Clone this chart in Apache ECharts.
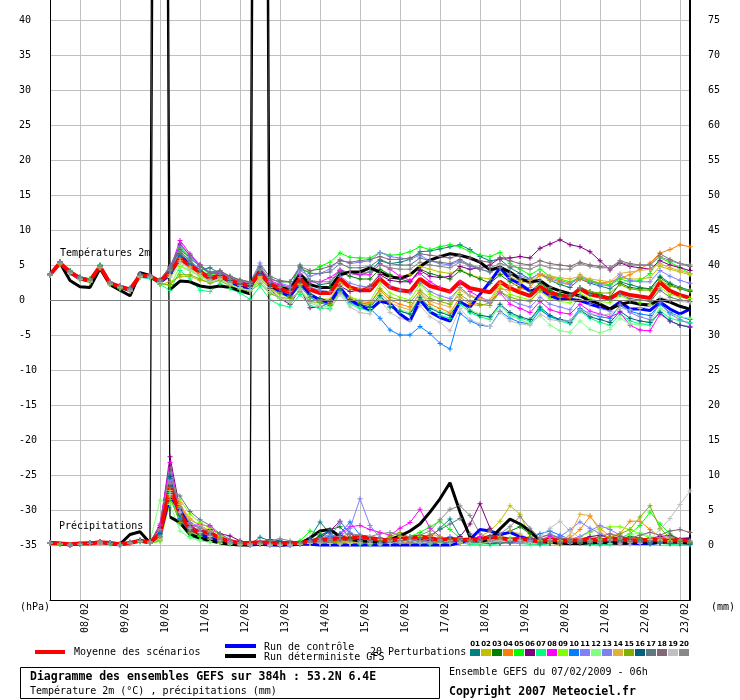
<!DOCTYPE html>
<html><head><meta charset="utf-8">
<script src="https://cdn.jsdelivr.net/npm/echarts@6/dist/echarts.min.js"></script>
<style>html,body{margin:0;padding:0;background:#fff}#chart{width:740px;height:700px}</style>
</head><body><div id="chart"></div>
<script>
const STEP_HOURS = 6;
const dateLabels = ['08/02','09/02','10/02','11/02','12/02','13/02','14/02','15/02','16/02','17/02','18/02','19/02','20/02','21/02','22/02','23/02'];
const dateTickHours = [18,42,66,90,114,138,162,186,210,234,258,282,306,330,354,378];
const tempTicks = [-35,-30,-25,-20,-15,-10,-5,0,5,10,15,20,25,30,35,40];
const precipTicks = [0,5,10,15,20,25,30,35,40,45,50,55,60,65,70,75];
const pertNames = ['01','02','03','04','05','06','07','08','09','10','11','12','13','14','15','16','17','18','19','20'];
const pertColors = ['#008080','#c0c000','#008000','#ff8000','#00ff00','#800080','#00ff80','#ff00ff','#80ff00','#0080ff','#8080ff','#80ff80','#8080f0','#e0b040','#80b000','#006080','#607880','#806878','#c0c0c0','#888888'];

// Temperature 2m (°C), 6-hourly from 07/02 06h
const tempMean = [3.6, 5.3,4.0,3.1,2.8, 4.8,2.4,1.9,1.5, 3.5,3.4,2.6,4.0, 5.9,4.9,4.0,3.1, 3.5,2.8,2.3,2.1, 3.9,2.3,1.6,1.1, 3.0,1.5,1.0,1.0, 3.0,1.8,1.4,1.4, 3.0,1.8,1.4,1.2, 3.0,2.0,1.6,1.2, 2.6,1.7,1.4,1.1, 2.6,1.7,1.1,0.6, 1.9,1.0,0.7,0.4, 1.6,0.8,0.5,0.2, 1.1,0.7,0.5,0.3, 2.5,1.3,0.7,0.3];
const tempControl = [3.6, 5.3,3.9,3.0,2.7, 4.7,2.3,1.8,1.4, 3.4,3.3,2.5,3.6, 6.2,5.0,4.0,3.0, 3.4,2.6,2.0,1.7, 4.2,2.1,1.2,0.5, 2.5,0.8,0.0,-0.4, 1.8,0.0,-0.8,-1.4, -0.2,-0.5,-2.0,-3.0, 0.0,-1.7,-2.5,-3.0, -0.3,-1.0,0.8,2.6, 4.6,3.0,2.3,1.3, 1.6,0.6,0.1,0.1, -0.1,-0.6,-1.0,-1.3, -0.3,-1.3,-1.3,-1.5, -0.3,-1.3,-2.0,-1.3];
const tempDeterministic = [3.6, 5.3,2.8,1.9,1.8, 4.5,2.2,1.4,0.6, 3.9,3.5,300,1.5, 2.7,2.6,2.0,1.8, 2.0,1.8,1.3,0.9, 300,1.9,1.7,1.5, 3.7,2.2,1.8,1.8, 3.6,4.0,4.0,4.6, 4.0,3.3,3.1,3.6, 4.8,5.7,6.2,6.6, 6.4,6.0,5.4,4.3, 4.7,4.0,3.0,2.6, 2.8,1.8,1.3,0.9, 0.6,-0.1,-0.6,-1.3, -0.6,-0.3,-0.6,-0.7, 0.1,-0.3,-0.9,-1.3];

const tempP01 = [3.7, 5.5,4.2,3.3,3.0, 5.0,2.6,2.0,1.7, 3.6,3.5,2.8,4.5, 7.0,5.6,4.3,4.6, 3.8,3.0,2.4,2.2, 4.4,2.6,2.0,1.6, 5.0,2.8,2.2,2.4, 4.2,3.8,3.6,4.0, 5.6,5.2,5.4,5.8, 6.9,7.0,7.3,7.6, 7.9,7.2,6.2,5.6, 5.8,4.6,3.8,3.0, 3.8,2.8,2.2,1.8, 3.0,2.4,2.0,1.6, 2.6,2.2,1.8,1.6, 3.4,2.4,1.8,1.4];
const tempP02 = [3.5, 5.1,3.8,2.9,2.5, 4.6,2.2,1.7,1.3, 3.3,3.2,2.2,2.6, 3.3,3.4,2.8,2.6, 3.0,2.4,1.8,1.5, 3.0,1.6,0.9,0.5, 2.2,0.8,0.2,0.1, 2.4,1.6,1.6,2.0, 3.8,3.2,3.4,3.6, 4.8,4.4,4.0,3.8, 4.4,3.6,3.2,3.0, 3.8,3.2,2.8,2.4, 3.6,2.8,2.4,2.2, 3.6,2.8,2.4,2.2, 3.2,3.0,3.0,3.2, 4.8,4.4,4.0,3.6];
const tempP03 = [3.6, 5.4,4.1,3.2,2.9, 4.9,2.5,2.0,1.6, 3.7,3.5,2.7,4.2, 6.4,5.3,4.3,3.2, 3.7,3.0,2.5,2.3, 4.1,2.6,2.0,1.5, 3.6,2.3,1.8,1.9, 4.0,3.4,3.0,3.0, 4.4,3.6,3.0,2.6, 4.4,3.8,3.4,3.0, 4.2,3.6,3.0,2.4, 3.6,2.6,1.8,1.2, 2.4,1.4,0.8,0.4, 1.8,1.2,0.8,0.4, 2.4,1.8,1.6,1.6, 3.2,2.2,1.6,1.2];
const tempP04 = [3.6, 5.2,3.9,3.0,2.7, 4.7,2.3,1.8,1.5, 3.5,3.3,2.5,3.8, 6.0,4.8,3.9,3.0, 3.4,2.6,2.1,1.9, 3.4,1.8,1.0,0.6, 2.4,0.6,0.0,-0.3, 1.8,0.4,-0.2,-0.4, 1.4,0.0,-0.6,-1.0, 1.0,-0.6,-1.2,-1.8, 0.4,-0.6,-0.8,-0.4, 1.6,1.4,1.6,1.8, 3.6,3.2,2.8,2.4, 3.0,2.6,2.4,2.6, 3.1,3.6,4.4,5.3, 6.7,7.2,7.9,7.6];
const tempP05 = [3.6, 5.4,4.2,3.3,3.0, 5.0,2.6,2.0,1.6, 3.6,3.5,2.9,4.6, 7.4,6.0,4.8,3.6, 3.9,3.2,2.7,2.5, 4.4,3.0,2.6,2.6, 4.4,4.0,4.8,5.4, 6.7,6.1,6.0,6.0, 6.8,6.4,6.5,6.9, 7.6,7.2,7.6,7.9, 7.6,6.9,6.4,6.2, 6.8,5.2,4.4,3.6, 4.4,3.4,3.0,2.6, 3.2,2.8,2.4,2.2, 3.0,2.6,2.8,3.8, 6.0,5.4,4.6,3.8];
const tempP06 = [3.6, 5.3,3.9,3.0,2.7, 4.8,2.3,1.8,1.4, 3.4,3.3,2.6,3.8, 8.0,6.4,5.0,3.8, 3.9,3.0,2.4,2.0, 3.6,1.6,0.2,-0.6, 1.6,-1.1,-1.0,-0.4, 2.0,1.2,1.4,2.0, 3.6,2.8,2.6,2.6, 4.2,3.4,3.2,3.4, 4.8,4.4,4.6,5.0, 6.0,6.0,6.2,6.0, 7.4,8.0,8.6,7.9, 7.6,6.9,5.6,4.3, 5.3,4.8,4.6,4.4, 5.6,5.0,4.6,4.2];
const tempP07 = [3.5, 5.2,3.8,2.9,2.6, 4.6,2.2,1.6,1.2, 3.2,3.1,2.2,1.4, 4.2,3.0,1.4,1.2, 2.4,1.6,1.0,0.1, 2.0,0.0,-0.7,-1.0, 0.8,-0.8,-1.2,-1.2, 1.2,-0.6,-1.2,-1.6, 0.4,-1.0,-1.6,-2.0, 0.0,-1.6,-2.2,-2.6, -0.6,-1.8,-2.4,-2.8, -0.8,-2.0,-2.6,-3.0, -1.2,-2.4,-3.0,-3.4, -1.6,-2.6,-3.2,-3.6, -2.0,-3.0,-3.4,-3.6, -1.6,-2.6,-3.0,-3.2];
const tempP08 = [3.7, 5.4,4.1,3.2,2.9, 4.9,2.5,2.0,1.6, 3.6,3.5,2.8,4.4, 8.5,6.6,5.0,3.8, 4.0,3.2,2.6,2.3, 4.2,2.8,2.2,1.8, 3.6,2.6,2.6,3.2, 4.2,3.8,3.6,3.6, 5.2,4.4,3.4,2.8, 3.8,2.6,1.8,1.2, 2.6,1.2,0.4,-0.2, 1.0,-0.6,-1.2,-1.8, -0.2,-1.4,-1.8,-2.0, -0.6,-1.6,-2.0,-2.4, -1.8,-3.6,-4.3,-4.4, -2.0,-3.0,-3.6,-3.8];
const tempP09 = [3.6, 5.3,4.0,3.1,2.8, 4.7,2.4,1.9,1.5, 3.5,3.4,2.4,2.0, 4.8,4.2,3.4,2.8, 3.2,2.4,1.8,1.4, 3.2,1.5,0.8,0.3, 2.0,0.3,-0.3,-0.6, 1.8,0.4,0.0,-0.2, 2.4,1.0,0.4,0.0, 2.2,0.8,0.2,-0.2, 1.8,0.6,0.0,-0.2, 2.0,0.8,0.4,0.0, 1.2,0.2,-0.2,-0.4, 1.0,0.2,-0.2,-0.4, 0.6,0.0,-0.4,-0.6, 1.8,0.8,0.4,0.2];
const tempP10 = [3.6, 5.3,4.0,3.1,2.8, 4.8,2.4,1.9,1.5, 3.5,3.4,2.6,4.0, 6.3,5.0,3.8,2.8, 3.2,2.6,2.0,1.7, 3.6,1.8,1.0,0.4, 2.0,0.4,-0.4,-0.8, 1.4,-0.4,-1.0,-1.2, -2.6,-4.3,-5.0,-5.0, -3.8,-4.8,-6.2,-7.0, -1.9,-3.0,-3.6,-3.8, -1.6,-2.6,-3.2,-3.4, -1.4,-2.4,-2.8,-3.0, -1.2,-2.0,-2.4,-2.6, -0.8,-1.6,-2.0,-2.2, -0.6,-1.8,-2.4,-2.8];
const tempP11 = [3.7, 5.4,4.1,3.3,2.9, 4.9,2.5,2.0,1.6, 3.6,3.5,2.7,4.8, 7.6,6.2,4.9,3.8, 4.0,3.3,2.7,2.5, 5.3,3.2,2.4,2.0, 4.2,3.4,3.8,4.4, 5.8,5.2,5.4,5.6, 6.8,6.2,6.0,5.8, 6.4,5.6,5.2,5.0, 5.6,4.8,4.4,4.0, 4.6,3.8,3.4,3.0, 3.8,3.0,2.6,2.2, 3.4,2.6,2.2,2.0, 3.6,2.8,2.6,2.6, 4.2,3.4,2.8,2.4];
const tempP12 = [3.5, 5.2,3.9,3.0,2.7, 4.7,2.3,1.8,1.4, 3.4,3.3,2.5,3.2, 5.0,4.2,3.3,2.6, 3.0,2.2,1.6,1.2, 2.8,1.0,0.2,-0.3, 1.6,-0.2,-0.8,-1.0, 1.0,-0.6,-1.0,-1.2, 0.8,-0.8,-1.4,-1.8, 0.6,-1.0,-1.6,-2.0, 0.0,-1.4,-2.0,-2.6, -0.8,-2.2,-2.8,-3.4, -2.2,-3.6,-4.4,-4.6, -3.0,-4.2,-4.7,-4.2, -2.6,-3.4,-3.6,-3.0, -1.2,-2.0,-2.4,-2.6];
const tempP13 = [3.6, 5.3,4.0,3.1,2.8, 4.8,2.4,1.9,1.5, 3.5,3.4,2.6,4.3, 7.0,5.6,4.4,3.4, 3.6,2.9,2.4,2.2, 4.4,2.6,1.8,1.2, 3.2,1.8,1.4,1.2, 3.4,2.4,2.0,1.8, 3.2,2.0,1.4,1.0, 2.4,1.2,0.6,0.2, 1.8,0.6,0.0,-0.4, 1.2,0.0,-0.6,-1.0, 0.4,-0.6,-1.0,-1.4, 0.6,-0.6,-1.2,-1.6, -0.6,-1.8,-2.4,-2.8, -0.4,-2.0,-2.8,-3.4];
const tempP14 = [3.6, 5.3,4.0,3.1,2.8, 4.8,2.4,1.9,1.5, 3.4,3.3,2.5,3.6, 5.6,4.6,3.7,2.9, 3.3,2.6,2.1,1.8, 3.4,1.8,1.0,0.6, 2.2,0.6,0.0,-0.4, 1.6,0.2,-0.4,-0.8, 1.0,-0.4,-1.0,-1.4, 1.2,-0.2,-0.6,-1.0, 1.4,0.6,0.2,0.0, 2.4,2.0,2.4,2.8, 3.8,3.4,3.2,3.0, 3.4,3.0,2.8,2.6, 3.8,4.0,4.2,4.4, 5.2,4.6,4.2,3.8];
const tempP15 = [3.5, 5.2,3.9,3.0,2.6, 4.6,2.2,1.7,1.3, 3.3,3.2,2.3,2.2, 3.6,3.6,3.0,2.4, 2.8,2.0,1.5,1.2, 2.4,0.9,0.4,0.2, 1.2,-0.2,-0.4,-0.6, 1.2,0.0,-0.4,-0.6, 1.6,0.4,0.0,-0.4, 1.4,0.2,-0.2,-0.6, 0.8,-0.2,-0.6,-0.8, 1.2,0.4,0.0,-0.2, 1.4,0.6,0.4,0.4, 1.8,1.2,1.0,1.0, 2.2,1.6,1.4,1.4, 2.8,2.0,1.6,1.4];
const tempP16 = [3.6, 5.3,4.0,3.1,2.8, 4.8,2.4,1.9,1.5, 3.6,3.5,2.7,4.2, 6.6,5.4,4.2,3.2, 3.5,2.8,2.3,2.0, 3.8,2.0,1.2,0.6, 2.6,0.8,0.2,-0.2, 1.6,0.0,-0.6,-1.0, 0.6,-1.0,-1.6,-2.0, 0.4,-1.2,-1.8,-2.2, -0.2,-1.6,-2.2,-2.4, -0.6,-1.8,-2.4,-2.8, -1.0,-2.2,-2.8,-3.2, -1.4,-2.4,-2.8,-3.2, -1.6,-2.6,-3.0,-3.2, -1.8,-3.0,-3.6,-3.9];
const tempP17 = [3.6, 5.3,4.0,3.1,2.8, 4.8,2.4,1.9,1.5, 3.6,3.5,2.8,4.6, 7.2,6.0,4.8,3.8, 4.1,3.4,2.8,2.6, 4.8,3.4,2.8,2.6, 4.6,3.8,3.8,4.0, 5.2,4.6,4.6,4.8, 5.8,5.2,5.0,5.0, 6.0,5.6,5.4,5.2, 5.8,5.0,4.4,4.0, 4.6,3.6,3.0,2.4, 2.8,1.8,1.2,0.8, 1.6,0.8,0.4,0.0, 0.8,0.2,0.0,-0.2, 1.4,0.4,0.0,-0.2];
const tempP18 = [3.7, 5.4,4.1,3.2,2.9, 4.9,2.5,2.0,1.6, 3.7,3.6,2.9,4.8, 7.8,6.4,5.0,4.0, 4.2,3.4,2.9,2.6, 4.6,3.0,2.6,2.6, 4.8,4.2,4.4,4.8, 5.6,5.4,5.6,5.8, 6.2,5.8,5.8,6.0, 6.6,6.4,6.2,6.0, 6.4,6.0,5.6,5.4, 6.0,5.6,5.2,5.0, 5.6,5.2,5.0,4.8, 5.4,5.0,4.8,4.6, 5.6,5.2,5.0,5.0, 6.6,5.8,5.2,4.8];
const tempP19 = [3.6, 5.2,3.9,3.0,2.7, 4.7,2.3,1.8,1.4, 3.4,3.3,2.5,3.4, 5.4,4.4,3.5,2.7, 3.0,2.3,1.8,1.4, 2.8,1.2,0.4,-0.2, 1.4,-0.4,-1.0,-1.4, 0.8,-1.0,-1.8,-2.0, 0.0,-1.8,-2.6,-3.0, -0.8,-2.4,-3.2,-4.4, -1.2,-2.8,-3.4,-3.8, -1.8,-3.0,-3.4,-3.6, -2.0,-2.8,-3.0,-3.0, -1.4,-2.0,-2.2,-2.0, -1.2,-1.4,-1.2,-0.8, 0.4,0.0,-0.2,-0.4];
const tempP20 = [3.6, 5.3,4.0,3.1,2.8, 4.8,2.4,1.9,1.5, 3.5,3.4,2.6,4.2, 6.8,5.4,4.3,3.4, 3.7,3.0,2.5,2.2, 4.2,2.6,2.0,1.8, 3.8,2.8,2.6,2.6, 4.4,3.8,3.8,4.0, 5.0,4.6,4.4,4.4, 5.4,5.0,4.8,4.6, 5.4,5.0,4.6,4.6, 5.2,4.8,4.6,4.4, 5.0,4.6,4.4,4.4, 5.2,4.8,4.6,4.6, 5.4,5.0,5.0,5.0, 6.2,5.6,5.2,5.0];

// Precipitation (mm), 6-hourly
const precipMean = [0.3,0.2,0.1,0.2,0.2, 0.4,0.3,0.1,0.3,0.6, 0.4, 1.6,8.3,4.4,2.3,1.8, 1.8,0.9,0.5,0.3,0.3, 0.4,0.3,0.3,0.3,0.3, 0.5,0.8,0.8,1.0,0.9, 1.2,1.0,0.8,0.6,0.9, 1.0,1.2,1.0,0.7,0.9, 0.7,0.8,0.8,1.2,1.0, 0.8,0.9,0.7,0.5,0.8, 0.6,0.6,0.7,0.8,0.6, 0.9,0.9,0.7,0.6,0.8, 0.7,0.6,0.7,0.6];
const precipControl = [0.3,0.2,0.0,0.2,0.2, 0.4,0.2,0.0,0.3,0.6, 0.3, 1.5,7.0,5.0,2.5,1.5, 1.0,0.5,0.2,0.1,0.0, 0.1,0.0,0.0,0.0,0.1, 0.1,0.0,0.0,0.0,0.0, 0.0,0.0,0.0,0.0,0.0, 0.0,0.0,0.0,0.0,0.0, 0.3,0.8,2.2,2.0,1.5, 1.8,1.2,0.8,0.6,0.4, 0.3,0.2,0.3,0.4,0.6, 0.4,0.3,0.2,0.2,0.2, 0.4,0.6,0.8,0.9];
const precipDeterministic = [0.4,0.2,0.0,0.2,0.3, 0.4,0.2,0.1,1.5,1.9, 0.3, 300,4.0,3.2,1.5,1.0, 0.6,0.3,0.1,0.0,0.0, 300,0.1,0.0,0.1,0.2, 1.0,2.0,2.2,1.2,0.8, 0.6,0.5,0.4,0.8,1.3, 2.0,3.0,4.7,6.6,8.9, 4.7,1.1,0.5,0.8,2.3, 3.7,3.0,2.0,0.6,0.4, 0.3,0.2,0.2,0.3,0.4, 0.3,0.2,0.3,0.4,0.3, 0.4,0.5,0.4,0.3];

const precipP01 = [0.3,0.2,0.0,0.1,0.2, 0.5,0.2,0.0,0.4,0.7, 0.3, 1.5,9.5,4.5,2.2,1.8, 1.4,0.8,0.4,0.2,0.1, 1.1,0.6,0.3,0.2,0.4, 1.0,3.3,1.6,0.8,0.6, 0.4,0.3,0.2,0.6,0.4, 0.3,0.8,1.0,2.4,3.7, 1.2,0.4,0.3,0.2,0.2, 0.4,0.3,0.2,0.1,0.2, 0.3,0.2,0.4,0.2,0.1, 0.2,0.4,0.3,0.2,0.1, 0.2,0.3,0.2,0.1];
const precipP02 = [0.3,0.1,0.0,0.2,0.2, 0.3,0.2,0.0,0.2,0.5, 0.2, 0.8,7.0,5.5,3.6,2.8, 2.0,1.2,0.6,0.3,0.2, 0.2,0.1,0.0,0.0,0.1, 0.2,0.4,0.6,0.4,0.3, 0.2,0.1,0.3,0.8,1.2, 0.6,0.4,0.3,0.2,0.4, 0.6,0.8,1.2,2.0,3.4, 5.6,4.4,1.2,0.4,0.2, 0.1,0.2,0.4,0.6,0.8, 1.0,0.6,0.8,1.0,0.8, 0.6,0.4,0.3,0.2];
const precipP03 = [0.2,0.2,0.0,0.1,0.3, 0.4,0.3,0.1,0.3,0.6, 0.4, 1.2,8.5,3.5,2.0,1.5, 1.2,0.6,0.3,0.2,0.1, 0.3,0.2,0.1,0.1,0.3, 0.6,1.2,2.2,2.6,1.0, 0.6,0.4,0.3,0.2,0.4, 0.6,0.5,0.3,0.6,1.0, 0.4,0.2,0.2,0.3,1.2, 2.0,2.6,1.6,0.6,0.3, 0.2,0.4,0.6,0.4,0.2, 0.3,0.8,1.2,1.0,0.6, 0.4,0.2,0.3,0.2];
const precipP04 = [0.3,0.2,0.1,0.2,0.2, 0.4,0.2,0.0,0.3,0.5, 0.3, 2.0,9.0,6.0,3.0,2.4, 1.8,0.9,0.4,0.2,0.1, 0.2,0.1,0.1,0.0,0.2, 0.4,0.6,0.8,0.6,0.4, 0.3,0.6,0.8,1.0,0.6, 0.4,0.6,1.2,0.8,0.4, 0.2,0.3,0.6,0.8,0.4, 0.2,0.3,0.6,0.4,0.2, 0.4,1.0,2.2,4.1,2.4, 1.2,1.6,3.4,3.4,2.2, 1.2,0.6,0.4,0.3];
const precipP05 = [0.3,0.2,0.0,0.1,0.2, 0.3,0.2,0.0,0.2,0.5, 0.2, 0.6,6.5,4.0,1.6,1.2, 0.8,0.4,0.2,0.1,0.0, 0.1,0.0,0.0,0.2,0.6, 2.0,1.6,1.2,0.8,0.6, 0.4,0.2,0.3,0.6,0.8, 1.2,1.8,2.6,3.4,2.2, 1.0,0.4,0.2,0.6,0.8, 1.0,0.8,0.6,0.4,0.3, 0.2,0.4,0.8,1.2,1.0, 0.8,1.0,1.6,2.8,4.7, 3.0,1.6,0.8,0.4];
const precipP06 = [0.3,0.2,0.0,0.2,0.3, 0.5,0.3,0.1,0.4,0.7, 0.4, 2.5,12.6,5.0,2.8,2.0, 2.2,1.6,1.3,0.6,0.2, 0.3,0.2,0.1,0.1,0.2, 0.6,1.0,2.0,3.4,1.6, 0.8,0.4,0.3,0.2,0.4, 0.6,0.8,0.6,0.4,0.6, 1.2,3.0,5.9,2.4,0.8, 0.4,0.6,0.8,0.6,0.4, 0.3,0.4,0.8,1.2,1.4, 1.0,0.8,0.6,0.8,1.0, 1.2,1.4,0.8,0.4];
const precipP07 = [0.2,0.1,0.0,0.1,0.2, 0.3,0.1,0.0,0.2,0.4, 0.2, 1.0,7.5,3.0,1.2,0.8, 0.5,0.2,0.1,0.0,0.0, 0.1,0.0,0.0,0.0,0.1, 0.2,0.4,0.6,0.4,0.2, 0.1,0.0,0.0,0.2,0.4, 0.3,0.2,0.1,0.4,0.6, 0.3,0.1,0.0,0.0,0.2, 0.4,0.2,0.1,0.0,0.2, 0.6,0.4,0.2,0.1,0.0, 0.1,0.2,0.4,0.6,0.4, 0.2,0.1,0.0,0.0];
const precipP08 = [0.3,0.2,0.0,0.2,0.2, 0.4,0.2,0.0,0.3,0.6, 0.3, 3.0,11.8,4.2,2.5,3.0, 2.6,1.4,0.6,0.3,0.2, 0.2,0.1,0.1,0.0,0.1, 0.3,0.6,1.0,1.6,2.6, 2.8,2.2,1.8,1.4,2.4, 3.2,5.1,2.4,1.2,0.6, 0.4,0.8,1.2,0.6,0.4, 0.3,0.4,0.6,0.8,1.2, 0.8,0.4,0.3,0.2,0.4, 0.6,0.4,0.3,0.2,0.4, 0.6,0.4,0.2,0.2];
const precipP09 = [0.3,0.2,0.1,0.1,0.2, 0.4,0.2,0.0,0.2,0.5, 0.3, 0.5,6.0,6.5,4.4,3.2, 2.4,1.4,0.8,0.4,0.2, 0.1,0.1,0.0,0.1,0.2, 0.3,0.4,0.3,0.2,0.4, 0.6,0.4,0.3,0.2,0.6, 0.8,1.2,0.8,0.6,0.4, 0.3,0.2,0.4,0.8,1.0, 0.8,0.6,0.4,0.6,0.8, 0.6,0.8,1.2,1.8,2.4, 2.6,2.6,2.2,1.6,1.0, 0.8,0.6,0.4,0.3];
const precipP10 = [0.3,0.2,0.0,0.1,0.2, 0.4,0.3,0.1,0.3,0.6, 0.3, 1.8,10.0,3.8,2.0,1.6, 1.0,0.5,0.3,0.1,0.0, 0.1,0.0,0.0,0.1,0.2, 0.4,0.8,1.2,1.6,3.3, 1.4,0.6,0.3,0.2,0.4, 0.6,0.4,0.3,0.2,0.4, 0.6,0.4,0.8,1.2,0.8, 0.6,0.8,1.0,1.6,2.0, 1.4,0.8,0.6,0.4,0.6, 0.8,0.6,0.4,0.3,0.2, 0.3,0.4,0.6,0.4];
const precipP11 = [0.3,0.2,0.0,0.2,0.2, 0.4,0.2,0.0,0.3,0.6, 0.3, 2.2,9.2,5.2,3.2,2.6, 1.8,1.0,0.5,0.2,0.1, 0.2,0.1,0.0,0.0,0.2, 0.6,1.0,1.4,1.2,2.4, 6.6,2.8,1.0,0.6,0.4, 0.3,0.6,0.8,0.4,0.3, 0.2,0.4,0.6,0.4,0.3, 0.6,0.8,0.6,0.4,0.6, 1.2,2.2,3.3,2.4,1.6, 1.0,0.6,0.4,0.3,0.4, 0.6,0.4,0.3,0.2];
const precipP12 = [0.2,0.1,0.0,0.1,0.2, 0.3,0.2,0.0,0.2,0.6, 0.5, 6.4,5.8,2.0,1.0,0.6, 0.4,0.2,0.1,0.0,0.0, 0.1,0.0,0.0,0.0,0.1, 0.2,0.3,0.2,0.2,0.4, 0.6,0.4,0.2,0.4,0.8, 0.6,0.4,0.2,0.3,0.6, 0.8,0.4,0.2,0.2,0.4, 0.6,0.4,0.2,0.2,0.4, 0.6,0.8,0.6,0.4,0.3, 0.6,1.0,1.4,1.8,1.2, 0.6,0.4,0.2,0.2];
const precipP13 = [0.3,0.2,0.0,0.1,0.2, 0.4,0.2,0.0,0.2,0.5, 0.3, 1.4,8.8,4.8,2.6,2.0, 1.4,0.8,0.4,0.2,0.1, 0.2,0.1,0.1,0.1,0.2, 0.4,0.6,1.0,3.3,1.8, 1.0,0.6,0.4,0.3,0.6, 0.8,0.6,0.4,0.6,1.2, 0.8,0.6,0.4,0.6,0.8, 0.4,0.3,0.6,1.0,1.6, 1.0,0.8,1.2,2.0,2.8, 2.2,1.4,0.8,0.6,0.4, 0.3,0.4,0.3,0.2];
const precipP14 = [0.3,0.2,0.0,0.2,0.2, 0.4,0.2,0.0,0.3,0.6, 0.3, 0.9,7.8,5.8,3.8,2.8, 2.0,1.0,0.5,0.2,0.1, 0.1,0.0,0.0,0.1,0.2, 0.3,0.4,0.6,0.4,0.3, 0.4,0.6,0.8,0.6,0.4, 0.3,0.6,1.6,1.2,0.6, 0.4,0.3,0.4,0.6,1.2, 2.0,1.6,0.8,0.6,0.4, 0.6,1.4,4.4,4.2,2.0, 0.8,0.6,0.4,0.6,0.8, 0.6,0.4,0.3,0.2];
const precipP15 = [0.2,0.1,0.0,0.1,0.2, 0.3,0.2,0.0,0.2,0.5, 0.2, 0.7,6.8,3.2,1.8,1.4, 0.9,0.4,0.2,0.1,0.0, 0.1,0.0,0.0,0.0,0.2, 0.4,0.6,0.4,0.3,0.2, 0.2,0.4,0.6,1.2,1.8, 1.0,0.6,0.4,0.3,0.2, 0.4,0.6,0.4,0.3,0.6, 0.8,0.6,0.4,0.3,0.2, 0.4,0.6,0.4,0.3,0.6, 1.0,1.6,2.2,4.0,5.6, 2.4,1.0,0.6,0.4];
const precipP16 = [0.3,0.2,0.0,0.1,0.3, 0.5,0.3,0.1,0.3,0.6, 0.4, 1.6,9.8,4.4,2.4,1.8, 1.2,0.6,0.3,0.2,0.1, 0.3,0.8,0.6,0.3,0.2, 0.4,1.4,2.0,1.4,0.8, 0.6,0.4,0.3,0.2,0.4, 0.6,0.4,0.3,0.2,0.4, 0.6,0.4,0.3,0.2,0.3, 0.4,0.6,0.4,0.3,0.2, 0.3,0.4,0.3,0.2,0.3, 0.4,0.6,0.8,0.6,0.4, 0.3,0.2,0.2,0.1];
const precipP17 = [0.3,0.2,0.0,0.2,0.2, 0.4,0.2,0.0,0.3,0.6, 0.3, 1.1,8.2,7.0,4.8,3.6, 2.8,1.6,0.8,0.4,0.2, 0.2,0.1,0.1,0.0,0.1, 0.2,0.3,0.4,0.6,0.8, 0.6,0.4,0.3,0.4,0.6, 0.8,1.0,1.4,2.2,3.0, 3.8,1.6,0.6,0.4,0.3, 0.4,0.6,0.4,0.3,0.2, 0.3,0.4,0.6,0.4,0.3, 0.2,0.4,0.6,0.8,0.6, 0.4,0.3,0.2,0.2];
const precipP18 = [0.3,0.2,0.0,0.2,0.3, 0.5,0.3,0.1,0.4,0.6, 0.4, 2.8,11.0,3.6,2.0,1.6, 1.0,0.6,0.3,0.2,0.1, 0.2,0.1,0.1,0.1,0.2, 0.3,0.4,0.6,0.8,0.6, 0.4,0.6,1.0,0.8,0.6, 0.4,0.6,0.8,1.0,0.8, 0.6,0.4,0.8,1.2,1.0, 0.8,0.6,0.8,1.2,1.4, 1.0,0.8,0.6,0.8,1.2, 1.6,1.2,1.0,1.4,1.8, 1.4,2.0,2.2,1.8];
const precipP19 = [0.3,0.2,0.0,0.1,0.2, 0.4,0.2,0.0,0.3,0.5, 0.3, 0.8,7.2,4.6,2.4,1.8, 1.2,0.6,0.3,0.1,0.0, 0.1,0.0,0.0,0.0,0.1, 0.2,0.3,0.2,0.1,0.2, 0.3,0.2,0.1,0.2,0.4, 0.6,0.4,0.3,0.2,0.3, 0.4,0.3,0.2,0.4,0.6, 0.8,0.6,0.4,1.2,2.4, 3.4,2.0,1.0,0.6,0.4, 0.2,0.1,0.0,0.2,0.8, 2.2,3.8,5.8,7.7];
const precipP20 = [0.3,0.2,0.0,0.2,0.2, 0.4,0.2,0.0,0.3,0.6, 0.3, 1.2,10.4,5.4,3.0,2.4, 1.8,1.0,0.5,0.3,0.2, 0.4,0.6,0.9,0.6,0.3, 0.4,0.6,0.8,1.2,1.6, 1.4,1.2,1.6,1.8,1.4, 1.2,1.4,2.0,3.6,5.1, 5.6,4.2,1.6,0.8,1.6, 2.6,4.1,2.4,1.0,0.6, 0.4,0.6,0.8,0.6,0.4, 0.6,0.8,0.6,0.4,0.6, 1.0,1.2,0.8,0.6];

const tempPerts = [tempP01,tempP02,tempP03,tempP04,tempP05,tempP06,tempP07,tempP08,tempP09,tempP10,tempP11,tempP12,tempP13,tempP14,tempP15,tempP16,tempP17,tempP18,tempP19,tempP20];
const precipPerts = [precipP01,precipP02,precipP03,precipP04,precipP05,precipP06,precipP07,precipP08,precipP09,precipP10,precipP11,precipP12,precipP13,precipP14,precipP15,precipP16,precipP17,precipP18,precipP19,precipP20];

// ---- layout / style ----
const FONT = '"DejaVu Sans Mono", monospace';
const HALF_RANGE = 300 / 7;      // 7 px per unit, 600 px plot
const PRECIP_SHIFT = 35;         // 0 mm aligned with -35 °C
const MISSING_ABOVE = 100;       // off-scale (missing) values in the deterministic run
const PLUS = 'path://M2,0H3V2H5V3H3V5H2V3H0V2H2Z';
const toPairs = arr => arr.map((v, i) => [i * STEP_HOURS, v]);
const solidPart = arr => arr.map((v, i) => [i * STEP_HOURS, v > MISSING_ABOVE ? null : v]);
const jumpPart = arr => arr.map((v, i) => {
  const near = v > MISSING_ABOVE || (arr[i - 1] > MISSING_ABOVE) || (arr[i + 1] > MISSING_ABOVE);
  return [i * STEP_HOURS, near ? v : null];
});

const series = [];
tempPerts.forEach((arr, k) => {
  const s = {
    type: 'line', name: 'T' + pertNames[k], yAxisIndex: 0, data: toPairs(arr),
    symbol: PLUS, symbolSize: 5, lineStyle: { width: 1, color: pertColors[k] },
    itemStyle: { color: pertColors[k] }, silent: true
  };
  if (k === 0) {
    s.markLine = { silent: true, symbol: ['none', 'none'], label: { show: false },
      lineStyle: { color: '#808080', width: 1, type: 'solid' }, data: [{ yAxis: 0 }] };
  }
  series.push(s);
});
precipPerts.forEach((arr, k) => {
  series.push({
    type: 'line', name: 'P' + pertNames[k], yAxisIndex: 1, data: toPairs(arr),
    symbol: PLUS, symbolSize: 5, lineStyle: { width: 1, color: pertColors[k] },
    itemStyle: { color: pertColors[k] }, silent: true
  });
});
const mainLine = (data, axis, color, width) => ({
  type: 'line', yAxisIndex: axis, data: data, showSymbol: false, symbol: 'none', connectNulls: false,
  lineStyle: { width: width, color: color }, silent: true
});
series.push(mainLine(toPairs(tempControl), 0, '#0000ff', 3));
series.push(mainLine(toPairs(precipControl), 1, '#0000ff', 3));
series.push(mainLine(solidPart(tempDeterministic), 0, '#000000', 3));
series.push(mainLine(solidPart(precipDeterministic), 1, '#000000', 3));
series.push(mainLine(jumpPart(tempDeterministic), 0, '#000000', 1.3));
series.push(mainLine(jumpPart(precipDeterministic), 1, '#000000', 1.3));
series.push(mainLine(toPairs(tempMean), 0, '#ff0000', 4));
series.push(mainLine(toPairs(precipMean), 1, '#ff0000', 4));

const txt = (x, y, text, font, align) => ({
  type: 'text', x: x, y: y, z: 100,
  style: { text: text, font: font, fill: '#000', align: align || 'left', verticalAlign: 'middle' }
});
const graphics = [
  txt(60, 253, 'Températures 2m', '10px ' + FONT),
  txt(59, 526, 'Précipitations', '10px ' + FONT),
  txt(20, 607, '(hPa)', '10px ' + FONT),
  txt(711, 607, '(mm)', '10px ' + FONT),
  { type: 'line', z: 100, shape: { x1: 35, y1: 652, x2: 65, y2: 652 }, style: { stroke: '#ff0000', lineWidth: 4 } },
  txt(74, 652, 'Moyenne des scénarios', '10px ' + FONT),
  { type: 'line', z: 100, shape: { x1: 225, y1: 646, x2: 256, y2: 646 }, style: { stroke: '#0000ff', lineWidth: 4 } },
  { type: 'line', z: 100, shape: { x1: 225, y1: 656, x2: 256, y2: 656 }, style: { stroke: '#000000', lineWidth: 4 } },
  txt(264, 647, 'Run de contrôle', '10px ' + FONT),
  txt(264, 657, 'Run déterministe GFS', '10px ' + FONT),
  txt(370, 652, '20 Perturbations', '10px ' + FONT),
  { type: 'rect', z: 100, shape: { x: 20.5, y: 667.5, width: 419, height: 31 }, style: { fill: '#fff', stroke: '#000', lineWidth: 1 } },
  txt(30, 677, 'Diagramme des ensembles GEFS sur 384h : 53.2N 6.4E', 'bold 11.5px ' + FONT),
  txt(30, 691, 'Température 2m (°C) , précipitations (mm)', '10px ' + FONT),
  txt(449, 672, 'Ensemble GEFS du 07/02/2009 - 06h', '10px ' + FONT),
  txt(449, 692, 'Copyright 2007 Meteociel.fr', 'bold 11.5px ' + FONT)
];
pertColors.forEach((c, k) => {
  graphics.push({ type: 'rect', z: 100, shape: { x: 470 + 11 * k, y: 649, width: 10, height: 7 }, style: { fill: c } });
  graphics.push({ type: 'text', x: 475 + 11 * k, y: 644, z: 100,
    style: { text: pertNames[k], font: 'bold 7px "DejaVu Sans"', fill: '#000', align: 'center', verticalAlign: 'middle' } });
});

const chart = echarts.init(document.getElementById('chart'), null, { renderer: 'canvas' });
chart.setOption({
  animation: false,
  backgroundColor: '#ffffff',
  grid: { left: 50, right: 50, top: 0, bottom: 100, containLabel: false, outerBoundsMode: 'none' },
  xAxis: {
    type: 'value', min: 0, max: 384,
    axisLine: { show: true, onZero: false, lineStyle: { color: '#000', width: 1 } },
    axisTick: { show: false, customValues: dateTickHours },
    axisLabel: {
      customValues: dateTickHours, rotate: 90, margin: 3, verticalAlign: 'top', lineHeight: 11,
      fontFamily: FONT, fontSize: 10, color: '#000',
      formatter: v => dateLabels[dateTickHours.indexOf(v)] || ''
    },
    splitLine: { show: true, lineStyle: { color: '#c0c0c0', width: 1 } }
  },
  yAxis: [
    {
      type: 'value', min: -HALF_RANGE, max: HALF_RANGE, position: 'left',
      axisLine: { show: true, onZero: false, lineStyle: { color: '#000', width: 1 } },
      axisTick: { show: false, customValues: tempTicks },
      axisLabel: { customValues: tempTicks, align: 'left', margin: 31, fontFamily: FONT, fontSize: 10, color: '#000' },
      splitLine: { show: true, lineStyle: { color: '#c0c0c0', width: 1 } }
    },
    {
      type: 'value', min: PRECIP_SHIFT - HALF_RANGE, max: PRECIP_SHIFT + HALF_RANGE, position: 'right',
      axisLine: { show: true, onZero: false, lineStyle: { color: '#000', width: 2 } },
      axisTick: { show: false, customValues: precipTicks },
      axisLabel: { customValues: precipTicks, align: 'left', margin: 18, fontFamily: FONT, fontSize: 10, color: '#000' },
      splitLine: { show: false }
    }
  ],
  series: series,
  graphic: graphics
});
</script>
</body></html>
